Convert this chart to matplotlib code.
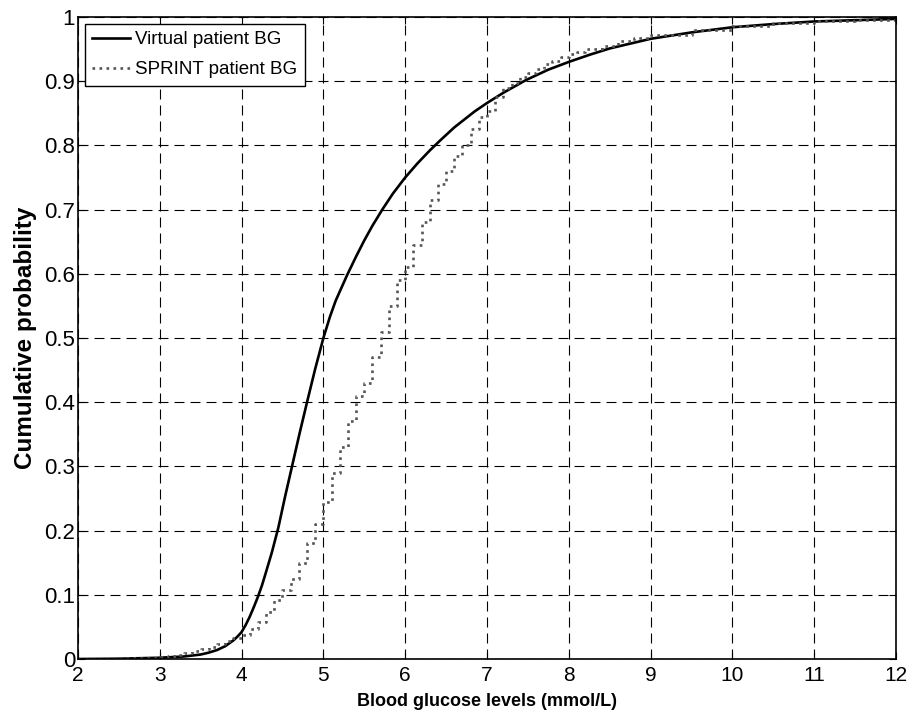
import matplotlib
matplotlib.use('Agg')
import matplotlib.pyplot as plt
from matplotlib.ticker import FuncFormatter

# virtual patient BG cdf
virtual_bg = [2.0, 2.5, 3.0, 3.3, 3.5, 3.6, 3.7, 3.8, 3.9, 3.95, 4.0, 4.05, 4.1,
              4.15, 4.2, 4.25, 4.3, 4.37, 4.45, 4.53, 4.62, 4.71, 4.8, 4.9,
              5.0, 5.08, 5.15, 5.29, 5.4, 5.5, 5.6, 5.72, 5.85, 6.0, 6.15,
              6.3, 6.43, 6.6, 6.85, 7.0, 7.2, 7.48, 7.75, 8.0, 8.25, 8.5, 9.0,
              9.5, 10.0, 10.5, 11.0, 11.5, 12.0]
virtual_cdf = [0.0, 0.0005, 0.002, 0.004, 0.007, 0.01, 0.014, 0.02, 0.029, 0.035,
               0.042, 0.053, 0.066, 0.081, 0.097, 0.115, 0.136, 0.166, 0.205,
               0.252, 0.302, 0.352, 0.40, 0.452, 0.50, 0.533, 0.558, 0.598, 0.627,
               0.652, 0.675, 0.70, 0.725, 0.75, 0.772, 0.792, 0.808, 0.828,
               0.853, 0.866, 0.882, 0.902, 0.918, 0.93, 0.941, 0.951, 0.966,
               0.976, 0.984, 0.989, 0.993, 0.995, 0.997]

# SPRINT patient BG empirical cdf, steps of 0.1 mmol/L
sprint_bg = [2.0, 2.5, 2.8, 3.0, 3.1, 3.2, 3.3, 3.4, 3.5, 3.6, 3.7, 3.8, 3.9,
             4.0, 4.1, 4.2, 4.3, 4.4, 4.5, 4.6, 4.7, 4.8, 4.9, 5.0, 5.1, 5.2,
             5.3, 5.4, 5.5, 5.6, 5.7, 5.8, 5.9, 6.0, 6.1, 6.2, 6.3, 6.4, 6.5,
             6.6, 6.7, 6.8, 6.9, 7.0, 7.1, 7.2, 7.3, 7.4, 7.5, 7.6, 7.7, 7.8,
             7.9, 8.0, 8.1, 8.2, 8.4, 8.6, 8.8, 9.0, 9.5, 10.0, 10.5, 11.0,
             11.5, 12.0]
sprint_cdf = [0.0, 0.001, 0.002, 0.003, 0.005, 0.007, 0.009, 0.012, 0.015, 0.019,
              0.023, 0.028, 0.033, 0.038, 0.047, 0.058, 0.074, 0.092, 0.108,
              0.125, 0.15, 0.18, 0.21, 0.245, 0.29, 0.33, 0.37, 0.41, 0.43,
              0.47, 0.51, 0.55, 0.59, 0.61, 0.645, 0.68, 0.715, 0.74, 0.76,
              0.783, 0.80, 0.825, 0.844, 0.853, 0.875, 0.89, 0.897, 0.906,
              0.913, 0.919, 0.927, 0.931, 0.937, 0.942, 0.945, 0.95, 0.955,
              0.962, 0.967, 0.972, 0.98, 0.986, 0.99, 0.993, 0.996, 0.998]

x_ticks = list(range(2, 13))
y_ticks = [i / 10 for i in range(11)]

plt.rcParams['font.family'] = ['Liberation Sans', 'DejaVu Sans']

fig = plt.figure(figsize=(9.13, 7.2), dpi=100)
ax = fig.add_axes([0.0854, 0.0847, 0.896, 0.8917])

ax.plot(virtual_bg, virtual_cdf, color='black', lw=1.9, label='Virtual patient BG')
ax.step(sprint_bg, sprint_cdf, where='post', color='#555555', lw=1.9,
        linestyle=':', label='SPRINT patient BG')

ax.set_xlim(2, 12)
ax.set_ylim(0, 1)
ax.set_xticks(x_ticks)
ax.set_yticks(y_ticks)
ax.yaxis.set_major_formatter(FuncFormatter(lambda v, p: '%g' % round(v, 2)))
ax.tick_params(direction='in', top=True, right=True, length=5, width=0.8)
ax.tick_params(axis='y', labelsize=16, pad=2)
ax.tick_params(axis='x', labelsize=15, pad=5)
ax.grid(True, color='black', lw=0.8, linestyle=(0, (9, 5.4)))
for s in ax.spines.values():
    s.set_linewidth(1.2)

ax.set_xlabel('Blood glucose levels (mmol/L)', fontsize=13, fontweight='bold',
              labelpad=6)
ax.set_ylabel('Cumulative probability', fontsize=17.5, fontweight='bold', labelpad=5)

leg = ax.legend(loc='upper left', fontsize=13.5, fancybox=False, framealpha=1,
                edgecolor='black', borderaxespad=0.35, handlelength=2.0,
                handletextpad=0.3, borderpad=0.4, labelspacing=0.7)
leg.get_frame().set_linewidth(1.0)

fig.savefig('out.png', dpi=100)
